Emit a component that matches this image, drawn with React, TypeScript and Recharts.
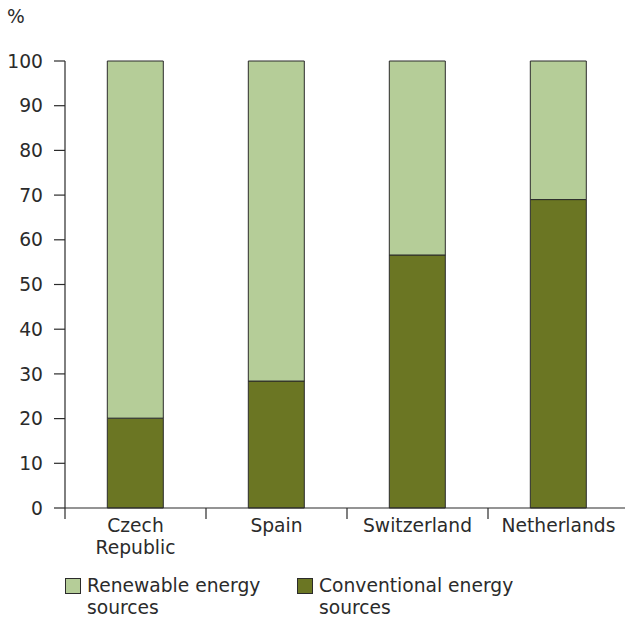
import { Bar, BarChart, XAxis, YAxis } from 'recharts';

const countries = ['Czech Republic', 'Spain', 'Switzerland', 'Netherlands'];
const conventional = [20.1, 28.4, 56.6, 69.0];
const renewable = [79.9, 71.6, 43.4, 31.0];
const yTicks = [0, 10, 20, 30, 40, 50, 60, 70, 80, 90, 100];

const seriesNames = ['Renewable energy sources', 'Conventional energy sources'];
const LIGHT = '#b5cd98';
const DARK = '#6b7623';
const INK = '#2b2b2b';
const FONT = '"DejaVu Sans", Verdana, sans-serif';
const FS = 18.7;

const data = countries.map((name, i) => ({
  name,
  conventional: conventional[i],
  renewable: renewable[i],
}));

function CountryTick(props: any) {
  const { x, y, payload } = props;
  const half = payload.offset || 0;
  const words = String(payload.value).split(' ');
  return (
    <g>
      <line x1={x - half} y1={y} x2={x - half} y2={y + 11} stroke={INK} strokeWidth={1.2} />
      <text x={x} y={y} textAnchor="middle" fill={INK} fontSize={FS} fontFamily={FONT}>
        {words.map((w, i) => (
          <tspan key={i} x={x} dy={i === 0 ? 24 : 22}>
            {w}
          </tspan>
        ))}
      </text>
    </g>
  );
}

function LegendItem({ color, label, left }: { color: string; label: string; left: number }) {
  const [first, ...rest] = label.split(' ');
  const line1 = [first, rest[0]].join(' ');
  const line2 = rest.slice(1).join(' ');
  return (
    <div style={{ position: 'absolute', left, top: 0, display: 'flex' }}>
      <div style={{ width: 14, height: 14, background: color, border: `1px solid ${INK}`, marginTop: 3 }} />
      <div style={{ marginLeft: 6, fontSize: FS, lineHeight: '22px', color: INK, fontFamily: FONT, whiteSpace: 'nowrap' }}>
        {line1}
        <br />
        {line2}
      </div>
    </div>
  );
}

export default function App() {
  return (
    <div style={{ position: 'absolute', left: 0, top: 0, width: 625, height: 617, overflow: 'hidden', background: '#fff' }}>
      <div style={{ position: 'absolute', left: 7, top: 6, fontSize: FS, color: INK, fontFamily: FONT }}>%</div>
      <div style={{ position: 'absolute', left: 0, top: 0 }}>
        <BarChart
          width={630}
          height={617}
          data={data}
          margin={{ top: 61, right: 1, bottom: 0, left: 0 }}
          barCategoryGap="30%"
        >
          <YAxis
            type="number"
            domain={[0, 100]}
            ticks={yTicks}
            width={65}
            tickSize={11}
            tickMargin={11}
            axisLine={{ stroke: INK, strokeWidth: 1.2 }}
            tickLine={{ stroke: INK, strokeWidth: 1.2 }}
            tick={{ fill: INK, fontSize: FS, fontFamily: FONT }}
            interval={0}
          />
          <XAxis
            dataKey="name"
            height={109}
            tickSize={0}
            tickMargin={0}
            tickLine={false}
            axisLine={{ stroke: INK, strokeWidth: 1.2 }}
            tick={<CountryTick />}
            interval={0}
          />
          <Bar dataKey="conventional" stackId="a" fill={DARK} stroke={INK} strokeWidth={1} isAnimationActive={false} />
          <Bar dataKey="renewable" stackId="a" fill={LIGHT} stroke={INK} strokeWidth={1} isAnimationActive={false} />
        </BarChart>
      </div>
      <div style={{ position: 'absolute', left: 0, top: 575, width: 625, height: 42 }}>
        <LegendItem color={LIGHT} label={seriesNames[0]} left={65} />
        <LegendItem color={DARK} label={seriesNames[1]} left={297} />
      </div>
    </div>
  );
}
